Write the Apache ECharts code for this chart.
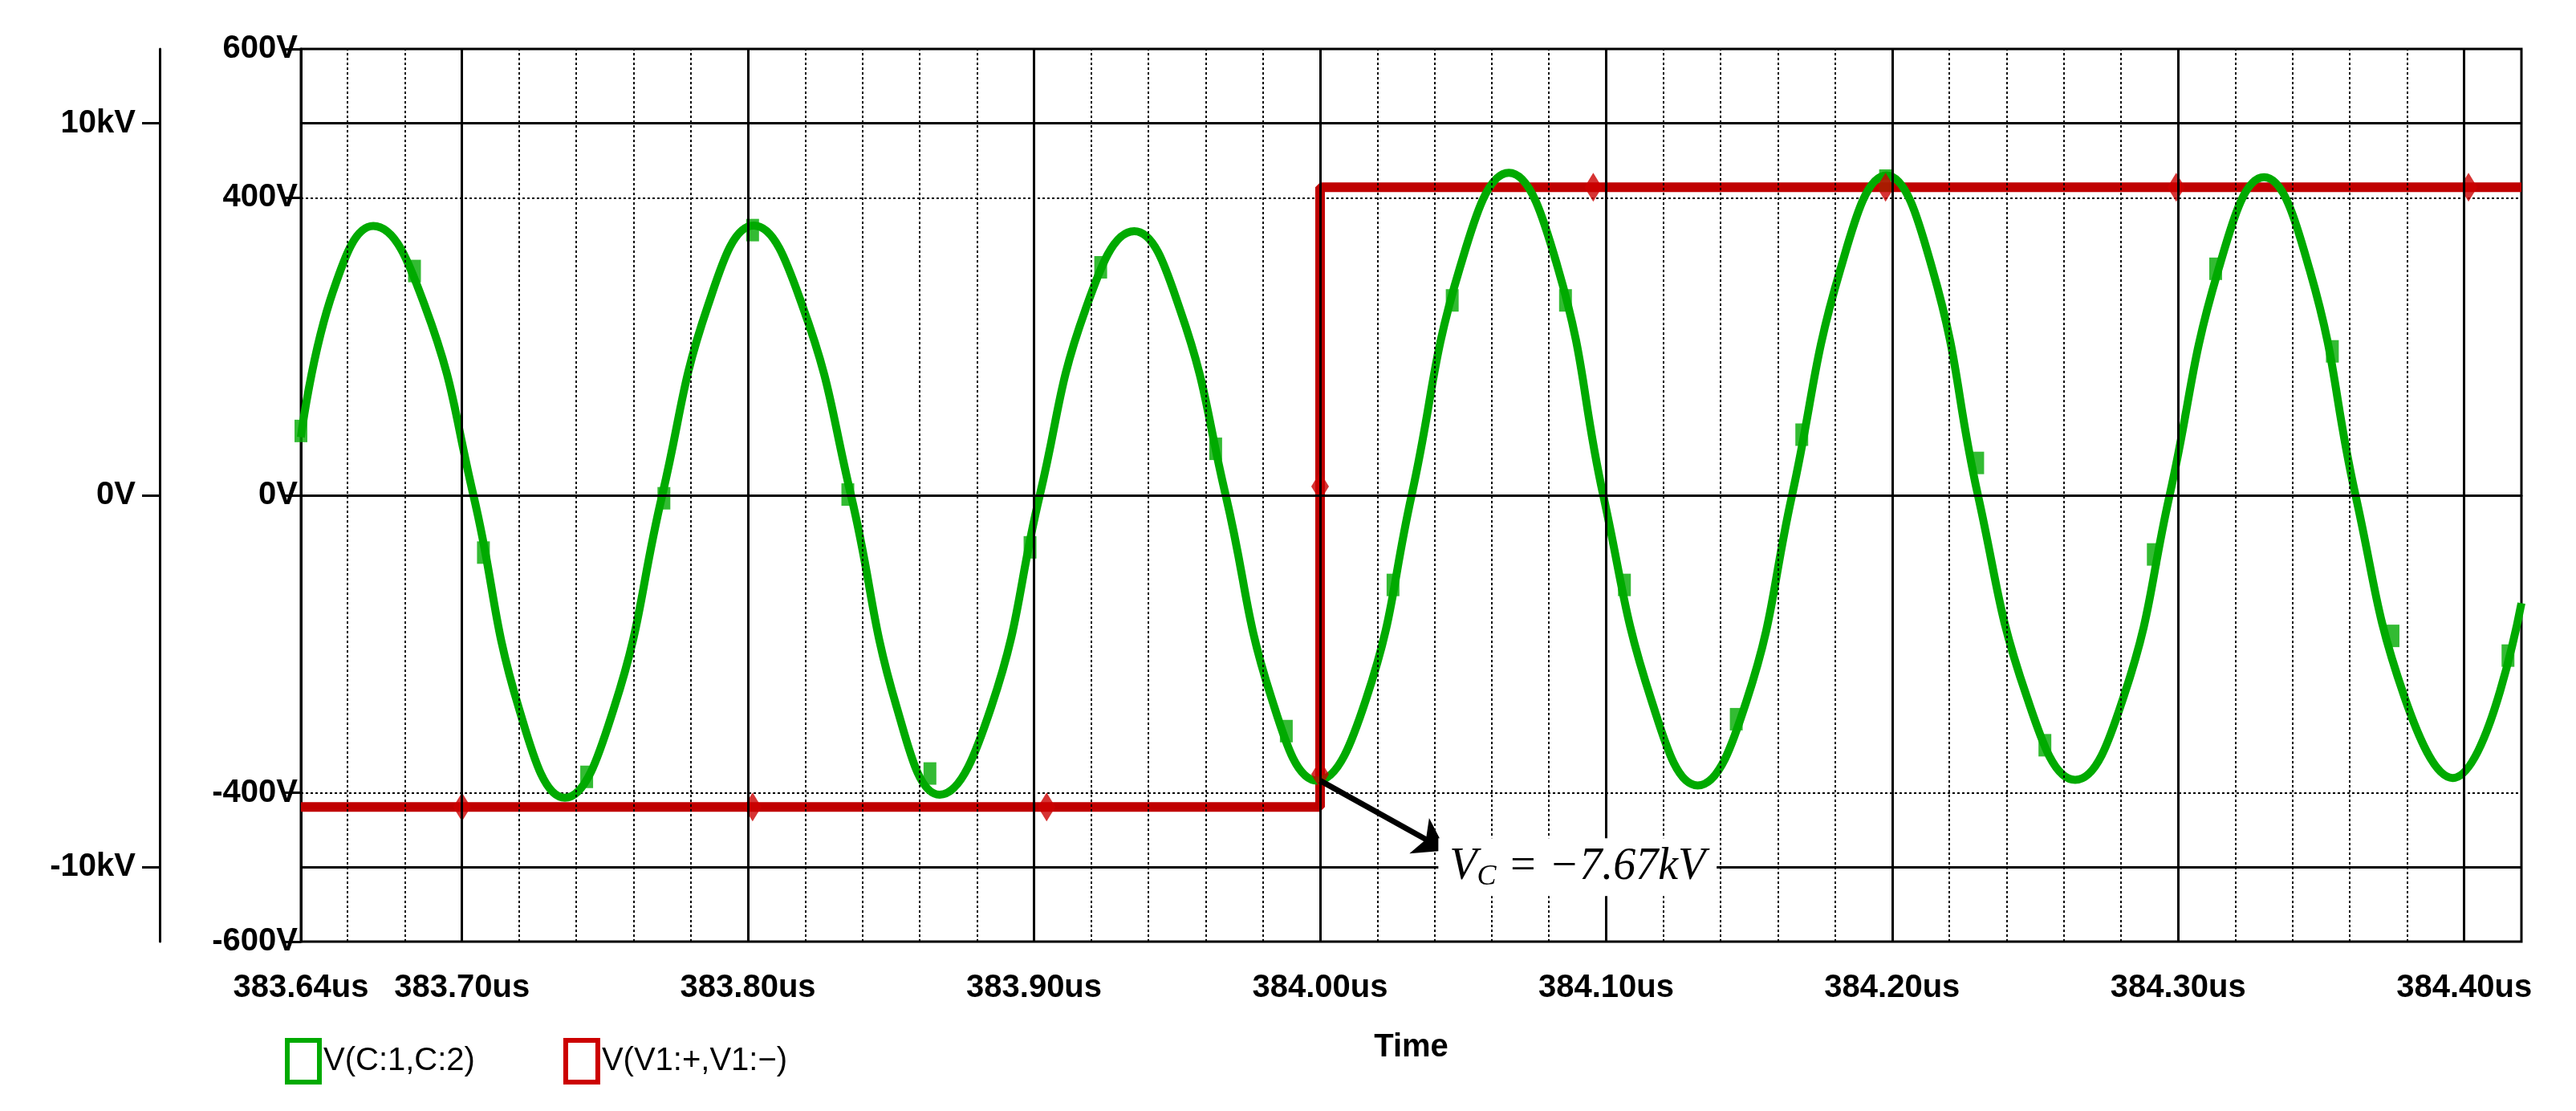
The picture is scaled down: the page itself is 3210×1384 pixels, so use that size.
<!DOCTYPE html>
<html><head><meta charset="utf-8">
<script src="https://cdn.jsdelivr.net/npm/echarts@6/dist/echarts.min.js"></script>
<style>html,body{margin:0;padding:0;background:#fff}#c{width:3210px;height:1384px}</style>
</head><body><div id="c"></div>
<script>
// Green V(C:1,C:2) in kV
const gT = [383.6437,383.655,383.669,383.687,383.704,383.720,383.736,383.753,383.770,383.786,383.802,383.819,383.836,383.852,383.867,383.885,383.902,383.918,383.935,383.951,383.967,383.983,383.999,384.016,384.032,384.049,384.066,384.083,384.099,384.116,384.132,384.149,384.165,384.182,384.198,384.214,384.230,384.247,384.264,384.281,384.297,384.314,384.330,384.346,384.362,384.379,384.396,384.420];
const gV = [1.56,5.5,7.24,5.1,0,-5.75,-8.13,-5.75,0,5.1,7.25,5.1,0,-5.7,-8.05,-5.7,0,5.0,7.1,5.0,0,-5.45,-7.67,-5.5,0,6.15,8.67,6.15,0,-5.55,-7.8,-5.55,0,6.1,8.6,6.1,0,-5.4,-7.65,-5.4,0,6.05,8.55,6.05,0,-5.4,-7.6,-2.9];
const gMarkT = [383.6437,383.6834,383.7075,383.7436,383.7706,383.8016,383.8349,383.8636,383.8986,383.9233,383.9635,383.9882,384.0255,384.0462,384.0858,384.1064,384.1455,384.1684,384.1977,384.2299,384.2534,384.2913,384.3131,384.3539,384.3751,384.4153];
const gMarkV = [1.73,6.03,-1.54,-7.57,-0.08,7.13,0.02,-7.48,-1.40,6.13,1.25,-6.34,-2.41,5.24,5.24,-2.41,-6.02,1.63,8.46,0.87,-6.72,-1.59,6.09,3.87,-3.78,-4.31];
// Red V(V1:+,V1:-) in V
const rT = [383.6437,384.0,384.0,384.42];
const rV = [-419,-419,414,414];
const rMarkT = [383.70,383.8016,383.9044,384.0,384.0,384.0955,384.1977,384.2993,384.4015];
const rMarkV = [-419,-419,-419,12,-375,414,414,414,414];
const xLabels = [383.6437,383.7,383.8,383.9,384.0,384.1,384.2,384.3,384.4];
const xLabelText = ['383.64us','383.70us','383.80us','383.90us','384.00us','384.10us','384.20us','384.30us','384.40us'];
const xMajor = [383.7,383.8,383.9,384.0,384.1,384.2,384.3,384.4];
const xMinor = [383.66,383.68,383.72,383.74,383.76,383.78,383.82,383.84,383.86,383.88,383.92,383.94,383.96,383.98,384.02,384.04,384.06,384.08,384.12,384.14,384.16,384.18,384.22,384.24,384.26,384.28,384.32,384.34,384.36,384.38];
const innerLabels = [-600,-400,0,400,600];
const outerLabels = [-10000,0,10000];
const annot = {t:384.0, v:-7.67, tipT:384.044, tipV:-9.55, textT:384.09, textV:-10.0, text:'-7.67kV'};

const zip=(a,b,k)=>a.map((t,i)=>[t,b[i]*(k||1)]);
const lab={fontFamily:'Liberation Sans',fontWeight:'bold',fontSize:40,color:'#000'};
const chart = echarts.init(document.getElementById('c'));
chart.setOption({
  animation:false,
  grid:{left:375,right:68,top:61,bottom:211,show:true,borderColor:'#000',borderWidth:3,backgroundColor:'transparent'},
  legend:{left:350,top:1288,itemWidth:40,itemHeight:52,itemGap:110,icon:'rect',
    textStyle:{fontFamily:'Liberation Sans',fontSize:40,color:'#000'},
    data:[{name:'V(C:1,C:2)',itemStyle:{color:'#fff',borderColor:'#00aa00',borderWidth:6}},
          {name:'V(V1:+,V1:\u2212)',itemStyle:{color:'#fff',borderColor:'#cc0000',borderWidth:6}}]},
  xAxis:{type:'value',min:383.6437,max:384.42,
    name:'Time',nameLocation:'middle',nameGap:112,nameTextStyle:lab,
    axisLine:{lineStyle:{color:'#000',width:3}},axisTick:{show:false},
    axisLabel:Object.assign({margin:38,customValues:xLabels,formatter:v=>{const i=xLabels.findIndex(x=>Math.abs(x-v)<1e-6);return i>=0?xLabelText[i]:'';}},lab),
    splitLine:{show:false}},
  yAxis:[
    {type:'value',min:-600,max:600,interval:100,position:'left',
     axisLine:{show:true,lineStyle:{color:'#000',width:3}},
     axisTick:{show:true,length:20,customValues:innerLabels,lineStyle:{width:3}},
     axisLabel:Object.assign({margin:4,customValues:innerLabels,formatter:v=>v+'V'},lab),
     splitLine:{show:true,lineStyle:{color:'#000',width:2,type:[3,3]}}},
    {type:'value',min:-12000,max:12000,position:'left',offset:176,
     axisLine:{show:true,lineStyle:{color:'#000',width:3}},
     axisTick:{show:true,length:22,customValues:outerLabels,lineStyle:{width:3}},
     axisLabel:Object.assign({margin:30,customValues:outerLabels,formatter:v=>v===0?'0V':(v/1000)+'kV'},lab),
     splitLine:{show:false}}
  ],
  series:[
    {name:'grid',type:'line',yAxisIndex:0,data:[],silent:true,
     markLine:{silent:true,symbol:'none',label:{show:false},lineStyle:{color:'#000',width:2,type:[3,3]},
       data:xMinor.map(x=>({xAxis:x}))}},
    {name:'V(C:1,C:2)',type:'line',yAxisIndex:1,data:zip(gT,gV,1000),smooth:0.45,showSymbol:false,
     lineStyle:{color:'#00aa00',width:10},itemStyle:{color:'#00aa00'},z:3,
     markLine:{silent:true,symbol:['none','arrow'],symbolSize:38,label:{show:false},
       lineStyle:{color:'#000',width:7,type:'solid'},
       data:[[{coord:[annot.t,annot.v*1000]},{coord:[annot.tipT,annot.tipV*1000]}]]},
     markPoint:{silent:true,symbol:'rect',symbolSize:1,itemStyle:{color:'transparent'},
       data:[{coord:[annot.textT,annot.textV*1000],
        label:{show:true,position:'inside',backgroundColor:'#fff',padding:[6,14],
          formatter:'{v|V}{s|C}{v| = '+annot.text.replace('-','\u2212')+'}',
          rich:{v:{fontFamily:'Liberation Serif',fontStyle:'italic',fontSize:56,color:'#000'},
                s:{fontFamily:'Liberation Serif',fontStyle:'italic',fontSize:36,color:'#000',verticalAlign:'bottom',padding:[24,0,0,0]}}}}]}},
    {name:'gm',type:'scatter',yAxisIndex:1,data:zip(gMarkT,gMarkV,1000),symbol:'rect',symbolSize:[16,28],
     itemStyle:{color:'#00aa00'},z:4,silent:true},
    {name:'V(V1:+,V1:\u2212)',type:'line',yAxisIndex:0,data:zip(rT,rV),showSymbol:false,
     lineStyle:{color:'#c00000',width:12},itemStyle:{color:'#cc0000'},z:2,
     markLine:{silent:true,symbol:'none',label:{show:false},lineStyle:{color:'#000',width:3,type:'solid'},
       data:[{yAxis:0},{yAxis:500},{yAxis:-500}].concat(xMajor.map(x=>({xAxis:x})))}},
    {name:'rm',type:'scatter',yAxisIndex:0,data:zip(rMarkT,rMarkV),symbol:'diamond',symbolSize:[22,36],
     itemStyle:{color:'#cc0000'},z:4,silent:true}
  ]
});
</script></body></html>
